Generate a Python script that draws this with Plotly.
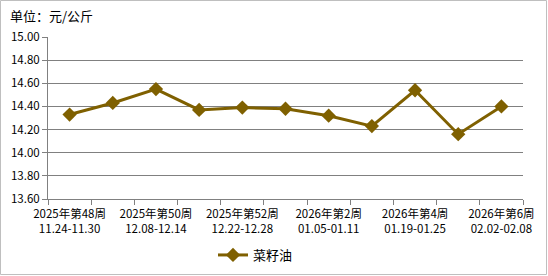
import plotly.graph_objects as go

weeks = ["2025年第48周", "2025年第49周", "2025年第50周", "2025年第51周", "2025年第52周",
         "2026年第1周", "2026年第2周", "2026年第3周", "2026年第4周", "2026年第5周", "2026年第6周"]
dates = ["11.24-11.30", "12.01-12.07", "12.08-12.14", "12.15-12.21", "12.22-12.28",
         "12.29-01.04", "01.05-01.11", "01.12-01.18", "01.19-01.25", "01.26-02.01", "02.02-02.08"]
prices = [14.33, 14.43, 14.55, 14.37, 14.39, 14.38, 14.32, 14.23, 14.54, 14.16, 14.40]
series_name = "菜籽油"
y_ticks = [13.60, 13.80, 14.00, 14.20, 14.40, 14.60, 14.80, 15.00]

cats = [f"{w}<br>{d}" for w, d in zip(weeks, dates)]
ticktext = [c if i % 2 == 0 else "" for i, c in enumerate(cats)]

W, H = 548, 276
ml, mr, mt, mb = 48, 25, 37, 77
pw, ph = W - ml - mr, H - mt - mb

font = "SimSun, 'Noto Sans CJK SC', sans-serif"
color = "#7F6000"

fig = go.Figure()
fig.add_trace(go.Scatter(
    x=cats, y=prices, name=series_name, mode="lines+markers",
    line=dict(color=color, width=3),
    marker=dict(symbol="diamond", size=11, color=color),
))

fig.update_layout(
    width=W, height=H,
    margin=dict(l=ml, r=mr, t=mt, b=mb, autoexpand=False),
    paper_bgcolor="white", plot_bgcolor="white",
    font=dict(family=font, size=12, color="#000000"),
    showlegend=True,
    legend=dict(orientation="h", x=0.5 - 30 / pw, xanchor="center", y=-56 / ph, yanchor="middle",
                font=dict(size=13), itemwidth=30),
    xaxis=dict(type="category", tickmode="array", tickvals=cats, ticktext=ticktext,
               tickson="boundaries", ticks="outside", ticklen=5, tickcolor="#808080",
               showline=True, linecolor="#808080", linewidth=1, showgrid=False,
               tickfont=dict(size=11.5), tickangle=0, range=[-0.5, 10.5], automargin=False,
               ticklabelstandoff=4),
    yaxis=dict(range=[13.6, 15.0], tickvals=y_ticks, tickformat=".2f",
               ticks="outside", ticklen=5, tickcolor="#808080",
               showline=True, linecolor="#808080", linewidth=1,
               showgrid=True, gridcolor="#808080", gridwidth=1, zeroline=False,
               tickfont=dict(size=11.5), automargin=False),
    annotations=[dict(text="单位：元/公斤", xref="paper", yref="paper",
                      x=-40 / pw, y=1 + 22 / ph, xanchor="left", yanchor="middle",
                      showarrow=False, font=dict(size=13))],
    shapes=[dict(type="rect", xref="paper", yref="paper",
                 x0=-(ml - 0.5) / pw, x1=1 + (mr - 1.5) / pw,
                 y0=-(mb - 1.5) / ph, y1=1 + (mt - 0.5) / ph,
                 line=dict(color="#BFBFBF", width=1))],
)

fig.write_html("out.html")
